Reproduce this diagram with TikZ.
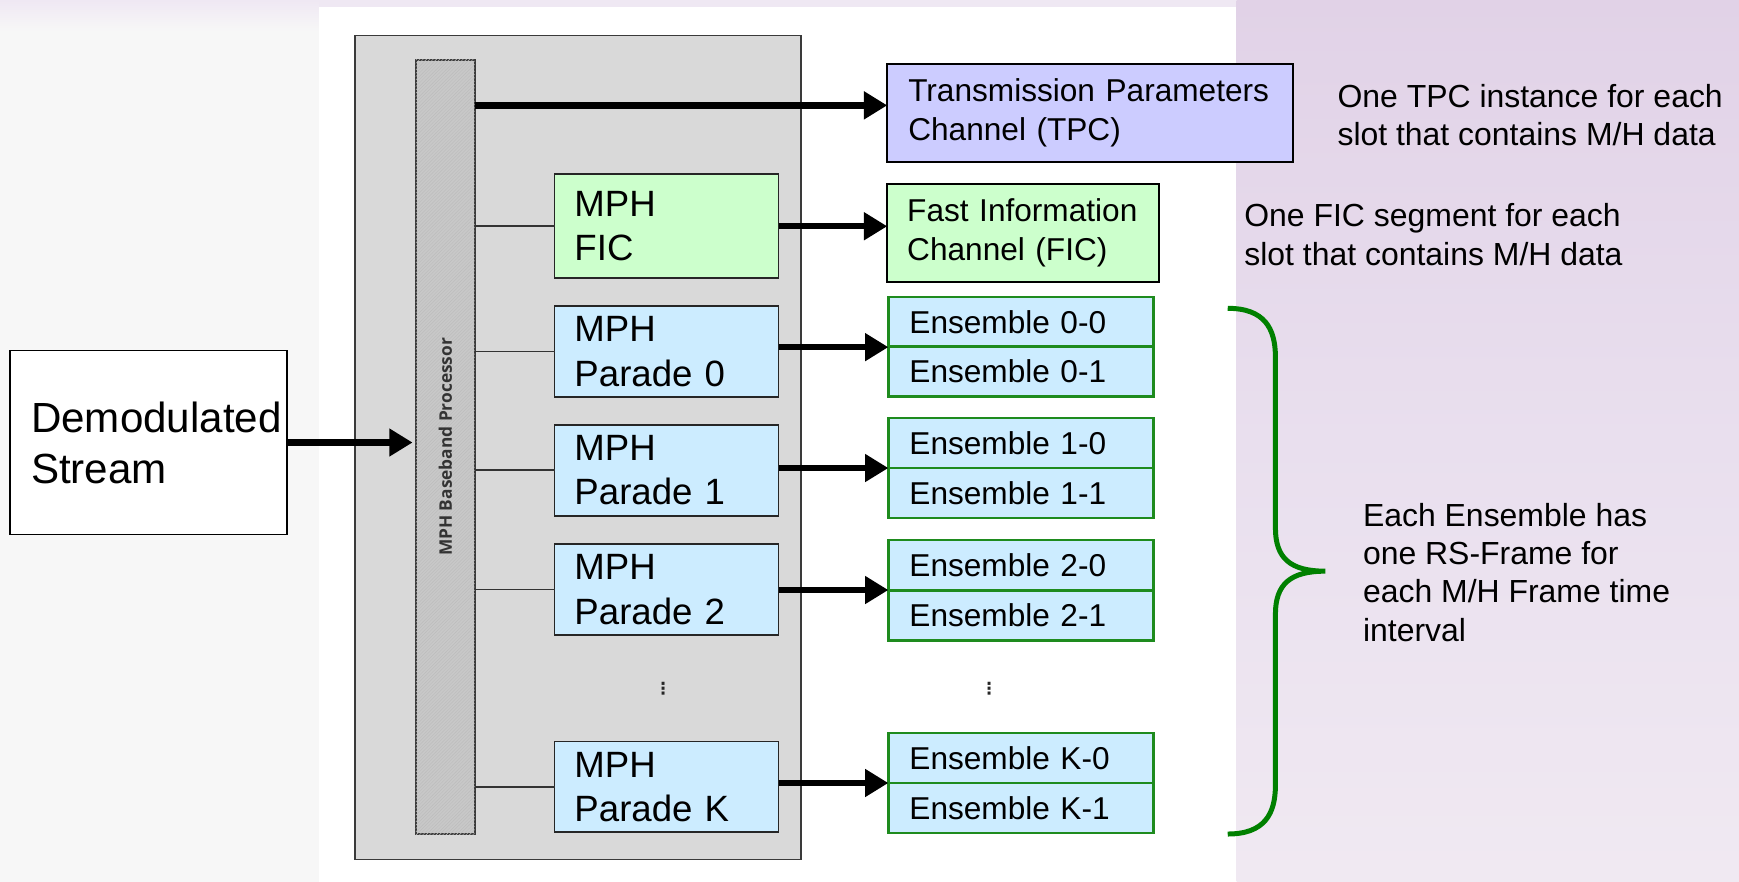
\documentclass[tikz,border=0pt]{standalone}
\usepackage{fontspec}
\setmainfont{Liberation Sans}
\newfontfamily\barfont{Open Sans}
\newfontfamily\symfont{DejaVu Sans}
\usetikzlibrary{arrows.meta,patterns}
\hyphenpenalty=10000
\exhyphenpenalty=10000

\definecolor{tpcfill}{HTML}{CCCCFF}
\definecolor{ficfill}{HTML}{CCFFCC}
\definecolor{parfill}{HTML}{CCECFF}
\definecolor{ensline}{HTML}{1E8B1E}
\definecolor{outerfill}{HTML}{D9D9D9}
\definecolor{outerline}{HTML}{3A3A3A}
\definecolor{barfill}{HTML}{C8C8C8}
\definecolor{barhatch}{HTML}{BDBDBD}
\definecolor{bracegreen}{HTML}{008000}
\definecolor{leftbg}{HTML}{F7F7F7}
\definecolor{lavtop}{HTML}{EFE8F3}
\definecolor{lavdark}{HTML}{E1D2E7}
\definecolor{lavmid}{HTML}{E9DFEE}
\definecolor{lavlight}{HTML}{F0E9F2}

\begin{document}
\begin{tikzpicture}[x=1pt,y=-1pt,
  every node/.style={inner sep=0pt, outer sep=0pt},
  container/.style={draw=outerline, line width=1.5pt, fill=outerfill,
    minimum width=402pt, minimum height=743pt},
  procbar/.style={draw=outerline, line width=1.6pt, fill=barfill,
    postaction={pattern=north east lines, pattern color=barhatch},
    minimum width=53pt, minimum height=698pt},
  bartext/.style={font=\barfont\bfseries\fontsize{15.6}{17}\selectfont, text=black!80},
  srcbox/.style={draw=black, line width=1.6pt, fill=white,
    minimum width=250pt, minimum height=166pt, inner xsep=19pt,
    text width=212pt, align=left, font=\fontsize{38}{46}\selectfont},
  mphbox/.style={draw=black!85, line width=1.6pt, fill=parfill,
    minimum width=202pt, minimum height=82pt, inner xsep=18pt,
    text width=166pt, align=left, font=\fontsize{33}{40}\selectfont},
  chanbox/.style={draw=black, line width=1.8pt, inner xsep=19pt,
    align=left, font=\fontsize{28.5}{35}\selectfont},
  ensbox/.style={draw=ensline, line width=2.2pt, fill=parfill,
    minimum width=239pt, minimum height=45pt, inner xsep=19pt,
    text width=201pt, align=left, font=\fontsize{28.5}{34}\selectfont},
  note/.style={anchor=west, align=left, font=\fontsize{28.8}{34.5}\selectfont},
  vdotsnode/.style={font=\symfont\bfseries\fontsize{15}{15}\selectfont, text=black!85},
  bigarrow/.style={line width=5.8pt, -{Triangle[length=21pt,width=24pt]}},
  thinlink/.style={line width=1.4pt, draw=black!80}
]
\useasboundingbox (0,0) rectangle (1568,795);

% page background: grey margin, white sheet, lavender side panel
\fill[leftbg] (0,0) rectangle (1568,795);
\shade[top color=lavtop, bottom color=leftbg] (0,0) rectangle (288,28);
\fill[lavtop] (288,0) rectangle (1115,7);
\fill[white] (288,6) rectangle (1115,795);
\shade[top color=lavdark, bottom color=lavlight, middle color=lavmid] (1115,0) rectangle (1568,795);

% receiver block
\node[container] (outer) at (521,403.5) {};
\node[procbar] (bar) at (401.5,403) {};
\node[bartext, rotate=90] (barlabel) at (bar.center) {MPH Baseband Processor};

\node[srcbox] (demod) at (134,399) {Demodulated\\Stream};

\node[mphbox, fill=ficfill, minimum height=94pt] (mphfic) at (601,204) {MPH\\FIC};
\node[mphbox] (p0) at (601,317) {MPH\\Parade 0};
\node[mphbox] (p1) at (601,424) {MPH\\Parade 1};
\node[mphbox] (p2) at (601,531.5) {MPH\\Parade 2};
\node[mphbox] (pk) at (601,709.5) {MPH\\Parade K};
\node[vdotsnode] (dotsl) at (598,621) {⋮};

% output channels
\node[chanbox, fill=tpcfill, minimum width=366pt, minimum height=88pt,
  text width=328pt] (tpc) at (983,102) {Transmission Parameters\\Channel (TPC)};
\node[chanbox, fill=ficfill, minimum width=245pt, minimum height=88pt,
  inner xsep=18pt, text width=209pt] (fic) at (922.5,210) {Fast Information\\Channel (FIC)};

\node[ensbox] (e00) at (920.5,290.5) {Ensemble 0-0};
\node[ensbox] (e01) at (920.5,335) {Ensemble 0-1};
\node[ensbox] (e10) at (920.5,399.5) {Ensemble 1-0};
\node[ensbox] (e11) at (920.5,444.5) {Ensemble 1-1};
\node[ensbox] (e20) at (920.5,509.5) {Ensemble 2-0};
\node[ensbox] (e21) at (920.5,555) {Ensemble 2-1};
\node[vdotsnode] (dotsr) at (892,621) {⋮};
\node[ensbox] (ek0) at (920.5,683.5) {Ensemble K-0};
\node[ensbox] (ek1) at (920.5,728.5) {Ensemble K-1};

% connectors
\coordinate (tpcin) at ([yshift=7pt]tpc.west);
\draw[bigarrow] (demod.east) -- ([xshift=-3pt]demod.east -| bar.west);
\draw[bigarrow] (bar.east |- tpcin) -- (tpcin);

\draw[thinlink] (bar.east |- mphfic.west) -- (mphfic.west);
\draw[thinlink] (bar.east |- p0.west) -- (p0.west);
\draw[thinlink] (bar.east |- p1.west) -- (p1.west);
\draw[thinlink] (bar.east |- p2.west) -- (p2.west);
\draw[thinlink] (bar.east |- pk.west) -- (pk.west);

\draw[bigarrow] (mphfic.east) -- (mphfic.east -| fic.west);
\draw[bigarrow] (p0.east |- e00.south) -- (e00.south west);
\draw[bigarrow] (p1.east |- e10.south) -- (e10.south west);
\draw[bigarrow] (p2.east |- e20.south) -- (e20.south west);
\draw[bigarrow] (pk.east |- ek0.south) -- (ek0.south west);

% notes
\node[note] (tpcnote) at (1206,103.5) {One TPC instance for each\\slot that contains M/H data};
\node[note] (ficnote) at (1122,211.5) {One FIC segment for each\\slot that contains M/H data};
\node[note] (ensnote) at (1229,516) {Each Ensemble has\\one RS-Frame for\\each M/H Frame time\\interval};

% brace grouping all ensembles
\draw[bracegreen, line width=4.5pt]
  (1107,278) .. controls (1140,278) and (1150,296) .. (1150,322)
  -- (1150,476) .. controls (1150,503) and (1163,515) .. (1195,515)
  .. controls (1163,515) and (1150,527) .. (1150,554)
  -- (1150,708) .. controls (1150,734) and (1140,752) .. (1107,752);
\end{tikzpicture}
\end{document}
